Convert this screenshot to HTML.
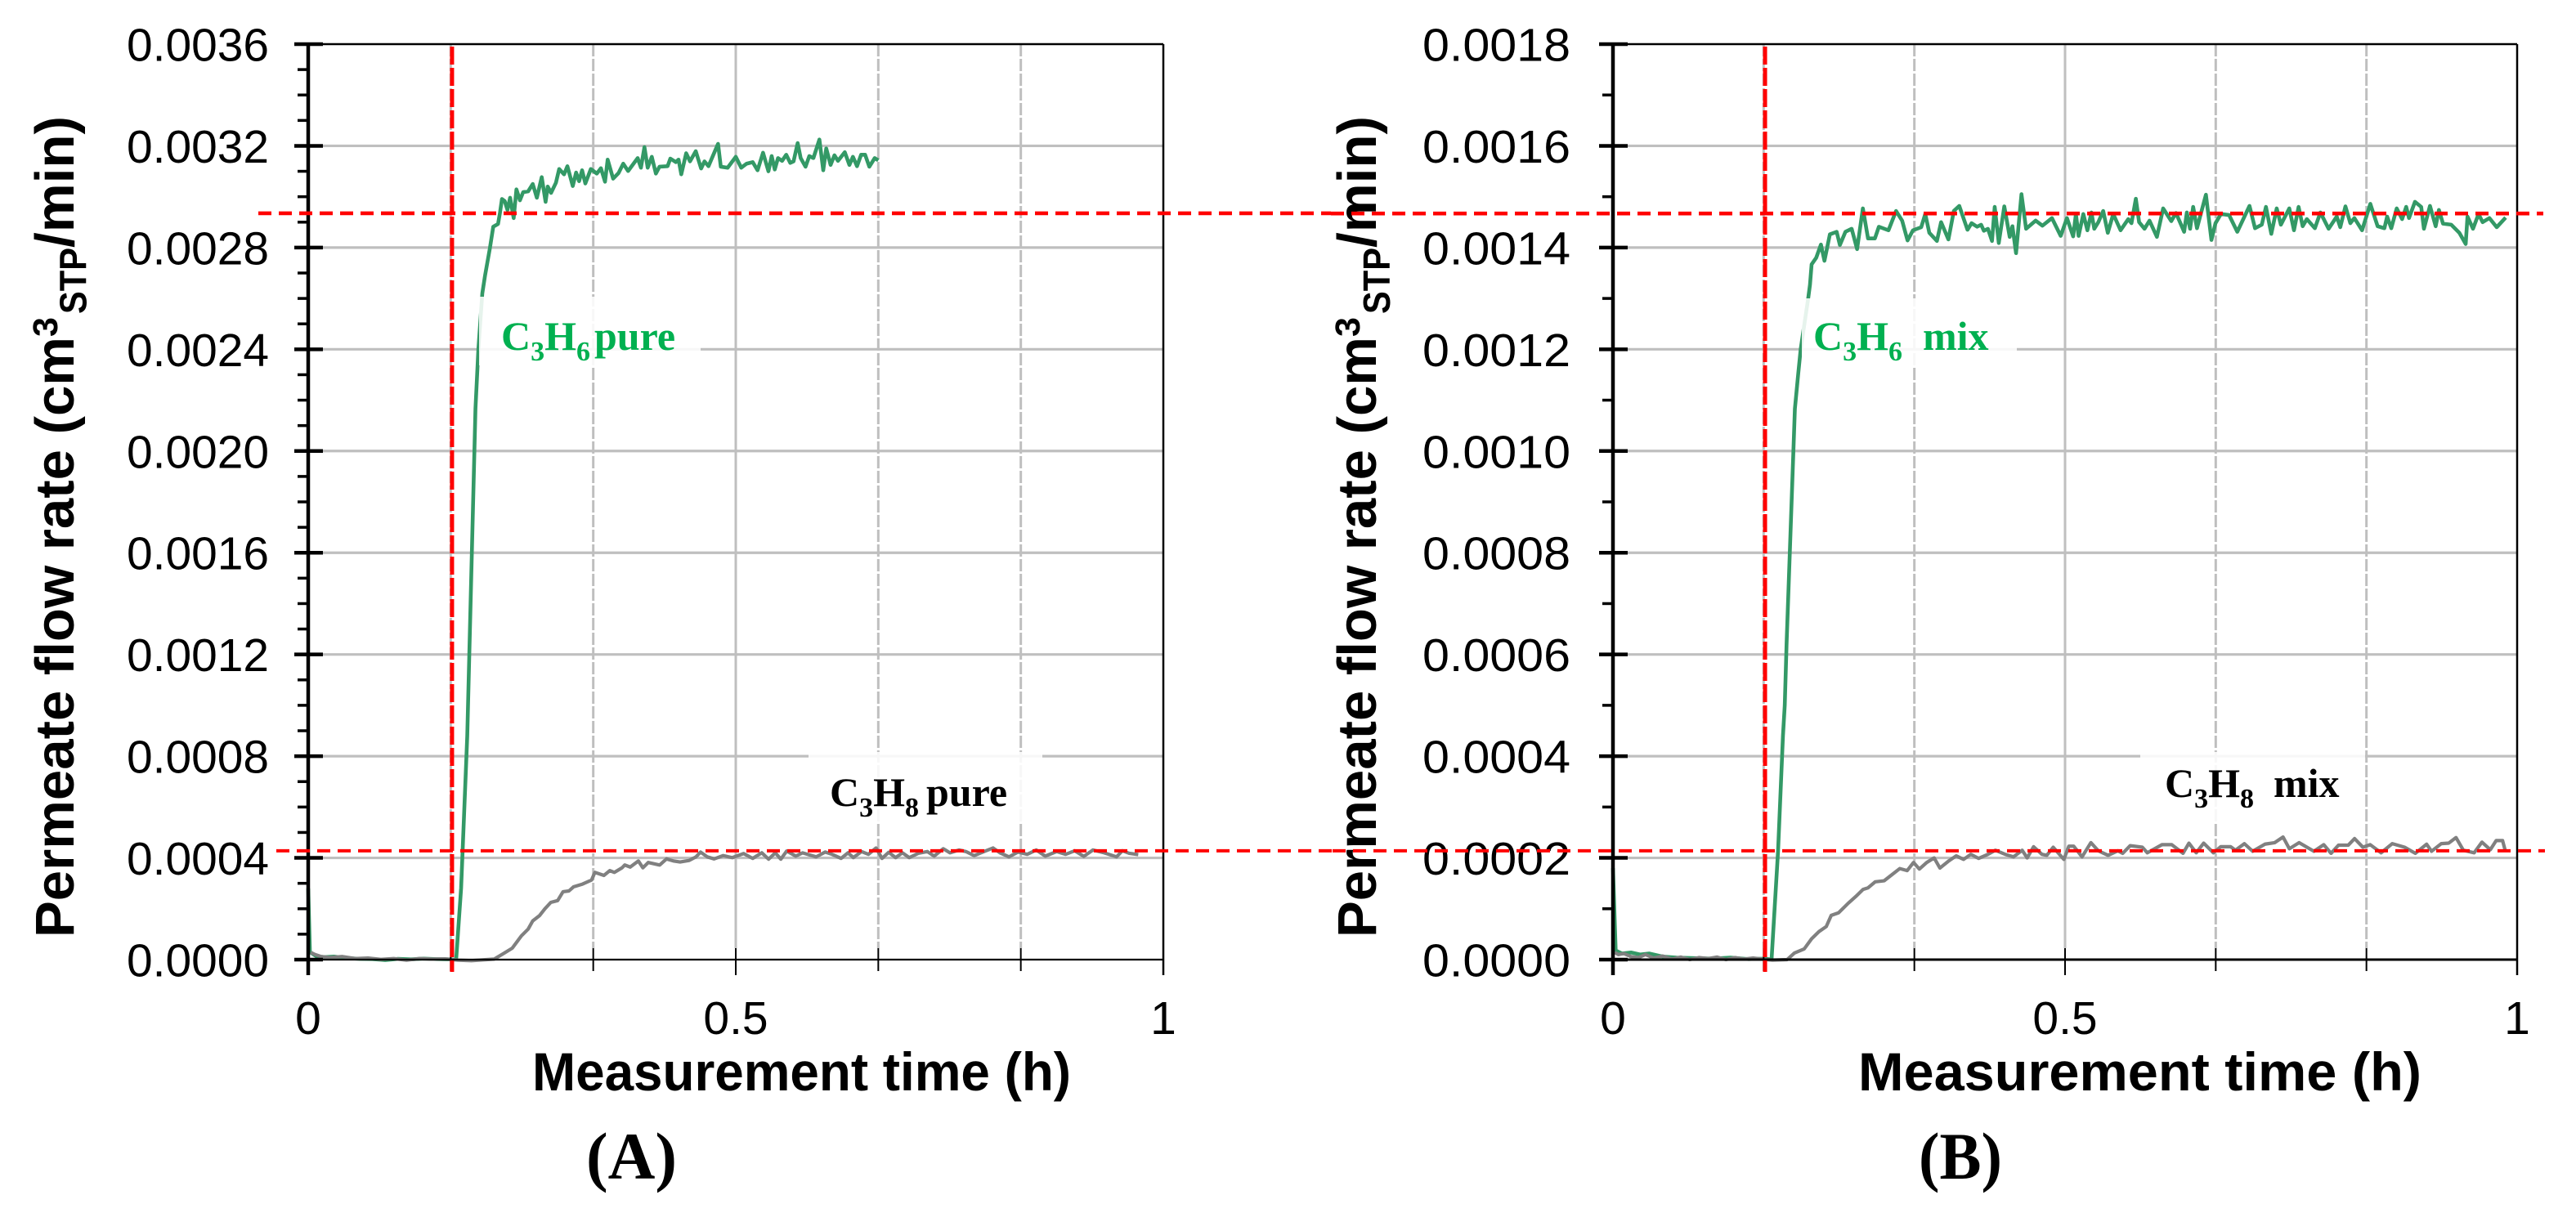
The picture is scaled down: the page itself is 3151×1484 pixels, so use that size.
<!DOCTYPE html>
<html lang="en">
<head>
<meta charset="utf-8">
<title>Permeate flow rate of C3H6 and C3H8, pure and mixed</title>
<style>
html,body{margin:0;padding:0;background:#fff;}
svg{display:block;}
.sans{font-family:"Liberation Sans",sans-serif;}
.serif{font-family:"Liberation Serif",serif;font-weight:bold;}
.tick{font-size:57px;fill:#000;}
.title{font-size:66px;font-weight:bold;fill:#000;}
</style>
</head>
<body>
<svg id="figure" xmlns="http://www.w3.org/2000/svg" width="3151" height="1484" viewBox="0 0 3151 1484">
  <rect x="0" y="0" width="3151" height="1484" fill="#fff"/>
  <g id="panel-a"></g>
  <g id="panel-b"></g>
  <g>
    <text class="sans title" x="651" y="1334" textLength="659" lengthAdjust="spacingAndGlyphs">Measurement time (h)</text>
    <g class="sans" font-weight="bold">
      <text transform="translate(90,1147) rotate(-90)" font-size="67" textLength="735" lengthAdjust="spacingAndGlyphs">Permeate flow rate (cm</text>
      <text transform="translate(70,412) rotate(-90)" font-size="43" textLength="24" lengthAdjust="spacingAndGlyphs">3</text>
      <text transform="translate(105.5,384) rotate(-90)" font-size="46" textLength="81" lengthAdjust="spacingAndGlyphs">STP</text>
      <text transform="translate(90,303) rotate(-90)" font-size="67" textLength="161" lengthAdjust="spacingAndGlyphs">/min)</text>
    </g>
    <text class="serif" x="717" y="1442" font-size="82" textLength="111" lengthAdjust="spacingAndGlyphs">(A)</text>
  </g>
  <g>
    <text class="sans title" x="2273" y="1334" textLength="689" lengthAdjust="spacingAndGlyphs">Measurement time (h)</text>
    <g class="sans" font-weight="bold">
      <text transform="translate(1683,1147) rotate(-90)" font-size="67" textLength="735" lengthAdjust="spacingAndGlyphs">Permeate flow rate (cm</text>
      <text transform="translate(1663,412) rotate(-90)" font-size="43" textLength="24" lengthAdjust="spacingAndGlyphs">3</text>
      <text transform="translate(1700,384) rotate(-90)" font-size="46" textLength="81" lengthAdjust="spacingAndGlyphs">STP</text>
      <text transform="translate(1683,303) rotate(-90)" font-size="67" textLength="161" lengthAdjust="spacingAndGlyphs">/min)</text>
    </g>
    <text class="serif" x="2347" y="1442" font-size="82" textLength="102" lengthAdjust="spacingAndGlyphs">(B)</text>
  </g>
  <g id="red-lines"></g>
</svg>
<script>
// ---- Panel A: tick labels ----
const yTickLabelsA = ["0.0000","0.0004","0.0008","0.0012","0.0016","0.0020","0.0024","0.0028","0.0032","0.0036"];
const yTickValuesA = [0,0.0004,0.0008,0.0012,0.0016,0.002,0.0024,0.0028,0.0032,0.0036];
// ---- Panel B: tick labels ----
const yTickLabelsB = ["0.0000","0.0002","0.0004","0.0006","0.0008","0.0010","0.0012","0.0014","0.0016","0.0018"];
const yTickValuesB = [0,0.0002,0.0004,0.0006,0.0008,0.001,0.0012,0.0014,0.0016,0.0018];
const xTickLabels = ["0","0.5","1"];
const xTickValues = [0,0.5,1];
const xGridValues = [1/6,2/6,3/6,4/6,5/6];

// ---- Reference levels ----
const feedStartTime = 0.1682;
const refHighA = 0.002935;
const refLowA = 0.000428;
const refHighB = 0.001467;
const refLowB = 0.000214;

// ---- C3H6 pure ----
const timeC3H6Pure = [0,.002,.01,.02,.03,.045,.06,.075,.09,.105,.12,.135,.15,.165,.173,.1788,.186,.1956,.199,.2036,.2068,.2125,.2164,.222,.2243,.2266,.2298,.233,.2361,.2403,.2435,.2476,.2514,.2572,.2626,.2674,.2731,.2776,.2801,.284,.2897,.2935,.2992,.3031,.3094,.3133,.3168,.3203,.3241,.3305,.3375,.3423,.3471,.3502,.3566,.3629,.3684,.3741,.3853,.3891,.3932,.397,.4018,.4066,.4108,.4203,.4235,.4299,.4331,.4363,.442,.4465,.4532,.4595,.4634,.4681,.4793,.4825,.4905,.5,.5064,.5127,.5198,.5255,.5319,.5382,.542,.5456,.5494,.5542,.559,.5637,.5676,.5724,.5759,.5816,.586,.5908,.5978,.6023,.6058,.6109,.6154,.6195,.6275,.6329,.637,.6418,.6466,.6513,.6562,.6625,.6667];
const flowC3H6Pure = [.00028,.00003,.000012,.00001,.000012,.000006,.000003,.000002,-.000002,.000003,.000001,.000004,.000002,.000001,0,.00028,.00088,.002167,.0024,.00262,.00269,.002798,.002882,.002893,.002938,.002991,.002983,.002948,.002996,.002916,.003029,.002986,.003018,.003021,.00305,.002996,.003077,.00298,.00304,.003015,.003055,.003109,.003088,.00312,.003042,.003095,.003061,.003104,.003052,.003109,.003091,.003112,.003059,.003146,.003071,.003093,.00313,.003101,.003152,.003114,.003195,.003114,.003157,.003091,.003118,.00312,.00315,.003136,.003146,.003088,.003171,.003139,.003179,.003111,.003139,.00312,.003208,.003118,.003114,.003157,.003114,.00313,.003136,.003104,.003173,.0031,.00316,.003107,.003152,.003141,.003165,.003133,.003139,.003211,.003152,.003118,.00316,.003152,.003225,.003104,.00319,.003125,.003163,.003141,.003175,.003125,.003157,.00312,.003165,.003165,.003118,.003152,.003143];

// ---- C3H8 pure ----
const timeC3H8Pure = [.003,.008,.015,.025,.04,.055,.07,.085,.1,.115,.13,.145,.16,.175,.1909,.2174,.228,.2386,.2492,.2572,.2625,.2705,.2768,.2837,.2917,.298,.3049,.3102,.3208,.3314,.3352,.3458,.3527,.358,.367,.3702,.3765,.3861,.3914,.3977,.411,.419,.427,.4349,.4455,.4535,.4588,.4667,.4747,.4853,.4959,.5092,.5198,.5304,.5384,.5463,.5527,.5596,.5702,.5781,.594,.6046,.6126,.6232,.6312,.6375,.6471,.6551,.6641,.671,.6789,.6869,.6949,.7029,.7134,.724,.732,.7426,.7505,.7612,.7691,.7787,.7903,.8009,.8089,.8195,.8301,.8408,.8514,.862,.8752,.8858,.8964,.907,.9177,.9309,.9453,.9521,.9601,.9707];
const flowC3H8Pure = [.000028,.00002,.000012,.000008,.000012,.000004,.000006,.000001,.000004,-.000002,.000004,.000002,.000003,-.000002,-.000004,.000002,.000023,.000045,.000093,.00012,.000152,.000173,.0002,.000225,.000232,.000267,.00027,.000286,.000297,.000313,.000343,.000331,.00035,.000343,.000361,.000372,.000364,.000388,.000361,.000382,.000372,.000396,.000388,.000384,.00039,.000404,.000423,.000404,.000396,.000409,.000401,.000417,.000398,.00042,.000395,.00042,.000395,.000427,.000407,.00042,.000404,.000423,.000414,.000398,.00042,.000401,.000425,.000414,.000439,.000398,.000422,.000401,.00042,.000401,.000418,.000425,.000407,.000436,.00042,.000431,.000425,.000409,.000425,.000439,.00042,.000404,.000423,.000414,.000431,.000407,.000425,.000414,.000428,.000406,.000431,.00042,.000404,.000428,.000418,.000413];

// ---- C3H6 mix ----
const timeC3H6Mix = [0,.003,.01,.02,.03,.04,.055,.07,.09,.11,.13,.15,.168,.1754,.1826,.188,.19,.192,.2012,.2049,.2076,.2159,.2179,.2197,.2248,.23,.2339,.2399,.2474,.251,.2571,.264,.27,.2764,.2821,.2897,.2941,.3047,.3131,.3198,.3258,.3318,.3409,.3454,.3499,.3583,.3629,.371,.377,.383,.3921,.3966,.4027,.4072,.4102,.4147,.4192,.4222,.4267,.4328,.4388,.4418,.4458,.4518,.4569,.4675,.475,.4855,.4952,.5021,.509,.512,.515,.5202,.5247,.5292,.5323,.5368,.5422,.5473,.5533,.5614,.5699,.5735,.5783,.5819,.5879,.5934,.6016,.6085,.6175,.6227,.6317,.6347,.6383,.6417,.6459,.6558,.6619,.6664,.6724,.6814,.6905,.704,.7101,.7176,.7222,.7281,.7341,.7387,.748,.7532,.7583,.7628,.7674,.7763,.7824,.7915,.8005,.8044,.8101,.8155,.82,.8285,.8376,.8457,.8532,.8562,.8608,.8668,.8728,.8773,.8804,.887,.8939,.8969,.9036,.9099,.9135,.918,.9271,.9361,.9431,.9451,.9512,.9573,.9618,.9693,.9774,.9873];
const flowC3H6Mix = [.00018,.000018,.000012,.000014,.00001,.000012,.000006,.000004,.000003,.000002,.000004,.000001,.000002,0,.000214,.00044,.0005,.00062,.001083,.001152,.0012,.0013,.001327,.001367,.00138,.001406,.001374,.001426,.001431,.001405,.001431,.001437,.001397,.001477,.001418,.001418,.001441,.001434,.001472,.001453,.001414,.001434,.00144,.001466,.001429,.001413,.00145,.001416,.001472,.001482,.001435,.001448,.001441,.001445,.001433,.001437,.001413,.00148,.001409,.001481,.001421,.001442,.001389,.001505,.001437,.001453,.001443,.001458,.001423,.001458,.001422,.001466,.001423,.001466,.001434,.001469,.001437,.00145,.001472,.001429,.001466,.001434,.001456,.001448,.001496,.00145,.001437,.001453,.001421,.001477,.001452,.001468,.001431,.001469,.001437,.00148,.001438,.001504,.001415,.001448,.001466,.001464,.001431,.001482,.001438,.001445,.00148,.001427,.001477,.001445,.001477,.001434,.00148,.001442,.001456,.001438,.001469,.001437,.001461,.00144,.001481,.001448,.001458,.001434,.001486,.001442,.001438,.001461,.001438,.001477,.001456,.00148,.001458,.00149,.00148,.001437,.001482,.001442,.001474,.001447,.001445,.001429,.001407,.001461,.001437,.001466,.00145,.001458,.00144,.001459];

// ---- C3H8 mix ----
const timeC3H8Mix = [.002,.006,.012,.02,.028,.036,.045,.055,.065,.075,.085,.095,.105,.115,.125,.135,.145,.155,.165,.1763,.1926,.2007,.2115,.2197,.2278,.2359,.2414,.2495,.2603,.2685,.2766,.282,.2901,.2999,.3064,.3172,.3254,.3324,.3389,.347,.3552,.3616,.3714,.3796,.3877,.3958,.4044,.4148,.4229,.4338,.443,.4526,.4581,.4652,.4744,.4798,.4869,.4987,.5042,.5096,.5188,.5286,.5367,.5476,.5584,.5638,.572,.5855,.591,.6072,.618,.6305,.637,.6451,.6533,.6641,.6722,.6831,.6885,.6983,.7075,.721,.7319,.7411,.7481,.7589,.7752,.7861,.7942,.8024,.8132,.8202,.8294,.8375,.8495,.8619,.8755,.8874,.8999,.9053,.9161,.9243,.9324,.9405,.9524,.9611,.9703,.9768,.9839,.9866];
const flowC3H8Mix = [.000014,.00001,.000012,.000006,.000004,.00001,.000003,.000007,.000001,.000005,0,.000004,.000002,.000005,0,.000004,.000001,.000003,.000001,-.000001,0,.000013,.000021,.000041,.000055,.000065,.000087,.000092,.000111,.000124,.000138,.000141,.000153,.000155,.000164,.000179,.000175,.000191,.000178,.000191,.0002,.00018,.000194,.000204,.000197,.000207,.000199,.000207,.000215,.000207,.000202,.000215,.0002,.000222,.000207,.000205,.000221,.000197,.000223,.000223,.000202,.00023,.000214,.000205,.000214,.000209,.000224,.000221,.00021,.000226,.000226,.000209,.000229,.00021,.000229,.00021,.000222,.000222,.000215,.000228,.000213,.000227,.00023,.000241,.000218,.00023,.000213,.000226,.000209,.000225,.000225,.000238,.000221,.000226,.00021,.000228,.000221,.000209,.000227,.000213,.000228,.000229,.00024,.000215,.00021,.000231,.000216,.000234,.000234,.000216];

const SVG_NS = "http://www.w3.org/2000/svg";
const PLOT_TOP = 54, PLOT_BOTTOM = 1174;

function make(parent, tag, attrs, text) {
  const el = document.createElementNS(SVG_NS, tag);
  for (const k in attrs) el.setAttribute(k, attrs[k]);
  if (text !== undefined) el.textContent = text;
  parent.appendChild(el);
  return el;
}

function polyPoints(times, flows, xs, ys) {
  const n = Math.min(times.length, flows.length);
  const out = [];
  for (let i = 0; i < n; i++) out.push(xs(times[i]).toFixed(2) + "," + ys(flows[i]).toFixed(2));
  return out.join(" ");
}

function drawFormula(parent, name, x, y, colour, sub1, sub2, word, wordX) {
  const t = make(parent, "text", {class: "serif", x: x, y: y, "font-size": 50, fill: colour});
  
  
  make(t, "tspan", {}, "C");
  make(t, "tspan", {"font-size": 34, dy: 13}, sub1);
  make(t, "tspan", {dy: -13}, "H");
  make(t, "tspan", {"font-size": 34, dy: 13}, sub2);
  make(t, "tspan", {dy: -13, x: wordX}, word);
}

function drawPanel(id, opt) {
  const root = document.getElementById(id);
  const xs = t => opt.x0 + t * (opt.x1 - opt.x0);
  const ys = v => PLOT_BOTTOM - v / opt.yMax * (PLOT_BOTTOM - PLOT_TOP);

  // gridlines
  const grid = make(root, "g", {stroke: "#bfbfbf", fill: "none"});
  
  
  opt.yTicks.forEach((v, i) => {
    if (i === 0 || i === opt.yTicks.length - 1) return;
    const g = make(grid, "line", {x1: xs(0), x2: xs(1), y1: ys(v), y2: ys(v), "stroke-width": 3.2});
    
    
  });
  xGridValues.forEach((t, i) => {
    const attrs = {x1: xs(t), x2: xs(t), y1: PLOT_TOP, y2: 1160, "stroke-width": 3};
    if (i !== 2) attrs["stroke-dasharray"] = "15 3";
    const g = make(grid, "line", attrs);
    
    
  });

  // series
  const green = make(root, "polyline", {points: polyPoints(opt.tGreen, opt.vGreen, xs, ys), fill: "none", stroke: "#339966", "stroke-width": 4.6, "stroke-linejoin": "round"});
  
  
  const gray = make(root, "polyline", {points: polyPoints(opt.tGray, opt.vGray, xs, ys), fill: "none", stroke: "#808080", "stroke-width": 4.2, "stroke-linejoin": "round"});
  
  

  // label boxes
  opt.boxes.forEach(b => {
    const r = make(root, "rect", {x: b[0], y: b[1], width: b[2], height: b[3], fill: "#fff", "fill-opacity": 0.88});
    
    
  });
  opt.labels.forEach(l => drawFormula(root, l.name, l.x, l.y, l.colour, l.sub1, l.sub2, l.word, l.wordX));

  // frame
  const frame = make(root, "g", {stroke: "#000", fill: "none"});
  
  
  const left = make(frame, "line", {x1: xs(0), x2: xs(0), y1: PLOT_TOP, y2: 1193, "stroke-width": 4.5});
  
  
  const right = make(frame, "line", {x1: xs(1), x2: xs(1), y1: PLOT_TOP, y2: 1193, "stroke-width": 2.5});
  
  
  const top = make(frame, "line", {x1: xs(0), x2: xs(1), y1: PLOT_TOP, y2: PLOT_TOP, "stroke-width": 2.5});
  
  
  const bottom = make(frame, "line", {x1: xs(0), x2: xs(1), y1: PLOT_BOTTOM, y2: PLOT_BOTTOM, "stroke-width": opt.bottomWidth});
  
  

  // y ticks and labels
  opt.yTicks.forEach((v, i) => {
    const tk = make(frame, "line", {x1: xs(0) - 17, x2: xs(0) + 18, y1: ys(v), y2: ys(v), "stroke-width": 4.5});
    
    
    const lb = make(root, "text", {class: "sans tick", x: opt.yLabelX, y: ys(v) + 20.5, textLength: opt.yLabelW, lengthAdjust: "spacingAndGlyphs"}, opt.yLabels[i]);
    
    
    if (i < opt.yTicks.length - 1) {
      const step = (opt.yTicks[i + 1] - v) / opt.minorPerMajor;
      for (let m = 1; m < opt.minorPerMajor; m++) {
        const mt = make(frame, "line", {x1: xs(0) - 13, x2: xs(0), y1: ys(v + m * step), y2: ys(v + m * step), "stroke-width": 3.5});
        
        
      }
    }
  });

  // x ticks and labels
  xGridValues.forEach((t, i) => {
    if (i === 2) return;
    const tk = make(frame, "line", {x1: xs(t), x2: xs(t), y1: 1160, y2: 1188, "stroke-width": 2});
    
    
  });
  xTickValues.forEach((t, i) => {
    const tk = make(frame, "line", {x1: xs(t), x2: xs(t), y1: 1160, y2: 1193, "stroke-width": 2});
    
    
    const lb = make(root, "text", {class: "sans tick", x: xs(t), y: 1265, "text-anchor": "middle"}, xTickLabels[i]);
    
    
  });

  // reference lines (drawn last, above text)
  const red = document.getElementById("red-lines");
  const vLine = make(red, "line", {x1: xs(feedStartTime), x2: xs(feedStartTime), y1: 57, y2: 1189, stroke: "#ff0000", "stroke-width": 5, "stroke-dasharray": "22 4"});
  
  
  const hi = make(red, "line", {x1: opt.hiStart, x2: opt.hiEnd, y1: ys(opt.refHigh), y2: ys(opt.refHigh), stroke: "#ff0000", "stroke-width": 4.6, "stroke-dasharray": "16 9"});
  
  
  const lo = make(red, "line", {x1: opt.loStart, x2: opt.loEnd, y1: ys(opt.refLow), y2: ys(opt.refLow), stroke: "#ff0000", "stroke-width": 4, "stroke-dasharray": "16 9"});
  
  
}

drawPanel("panel-a", {
  x0: 377, x1: 1423, yMax: 0.0036,
  yTicks: yTickValuesA, yLabels: yTickLabelsA, yLabelX: 155, yLabelW: 174, minorPerMajor: 4, bottomWidth: 2.2,
  tGreen: timeC3H6Pure, vGreen: flowC3H6Pure, greenName: "c3h6-pure-line",
  tGray: timeC3H8Pure, vGray: flowC3H8Pure, grayName: "c3h8-pure-line",
  boxes: [[586, 363, 271, 84], [989, 920, 286, 88]],
  labels: [
    {name: "c3h6-pure-label", x: 613, y: 428, colour: "#00b050", sub1: "3", sub2: "6", word: "pure", wordX: 727},
    {name: "c3h8-pure-label", x: 1015, y: 986, colour: "#000", sub1: "3", sub2: "8", word: "pure", wordX: 1133}
  ],
  refHigh: refHighA, refLow: refLowA, hiStart: 316, hiEnd: 1628, loStart: 338, loEnd: 1630
});

drawPanel("panel-b", {
  x0: 1973, x1: 3079, yMax: 0.0018,
  yTicks: yTickValuesB, yLabels: yTickLabelsB, yLabelX: 1740, yLabelW: 181, minorPerMajor: 2, bottomWidth: 3,
  tGreen: timeC3H6Mix, vGreen: flowC3H6Mix, greenName: "c3h6-mix-line",
  tGray: timeC3H8Mix, vGray: flowC3H8Mix, grayName: "c3h8-mix-line",
  boxes: [[2204, 365, 263, 82], [2618, 920, 275, 88]],
  labels: [
    {name: "c3h6-mix-label", x: 2218, y: 428, colour: "#00b050", sub1: "3", sub2: "6", word: "mix", wordX: 2352},
    {name: "c3h8-mix-label", x: 2648, y: 975, colour: "#000", sub1: "3", sub2: "8", word: "mix", wordX: 2781}
  ],
  refHigh: refHighB, refLow: refLowB, hiStart: 1628, hiEnd: 3111, loStart: 1630, loEnd: 3113
});
</script>
</body>
</html>
